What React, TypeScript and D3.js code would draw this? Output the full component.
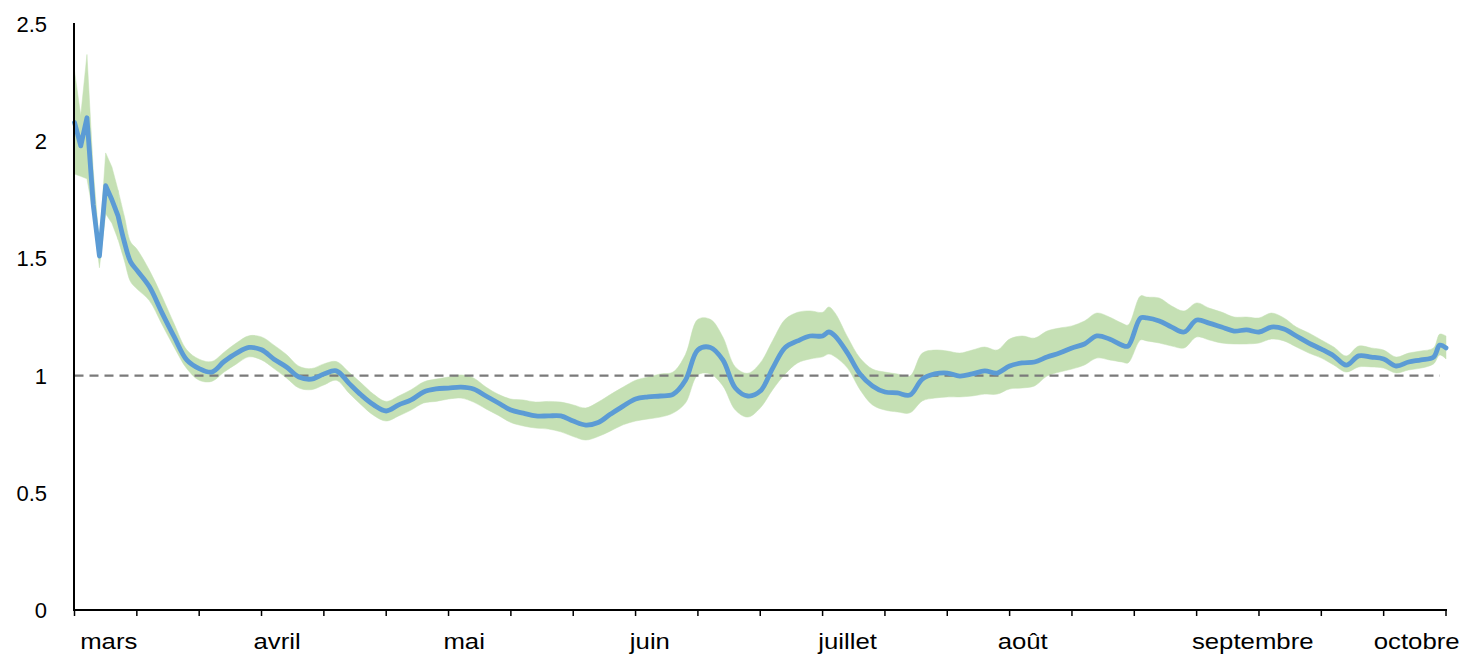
import React from "react";
import * as d3 from "d3";

// ---- data ----
const days = [
  0, 1, 2, 3, 4, 5, 6, 7, 8, 9, 10, 12, 14, 16, 18, 20, 22, 24, 26, 28, 30, 32, 34, 36, 38, 40,
  42, 44, 46, 48, 50, 52, 54, 56, 58, 60, 62, 64, 66, 68, 70, 72, 74, 76, 78, 80, 82, 84, 86, 88,
  90, 92, 94, 96, 98, 100, 102, 104, 106, 108, 110, 112, 114, 116, 118, 120, 121, 122, 124, 126,
  128, 130, 132, 134, 136, 138, 140, 142, 144, 146, 148, 150, 152, 154, 156, 158, 160, 162, 164,
  166, 168, 169, 171, 172, 174, 176, 178, 180, 182, 184, 186, 188, 190, 192, 194, 196, 198, 200,
  202, 204, 206, 208, 210, 212, 214, 216, 218, 219, 220,
];

const rEff = [
  2.08, 1.98, 2.1, 1.73, 1.51, 1.81, 1.75, 1.68, 1.57, 1.485, 1.45, 1.38, 1.27, 1.165, 1.067, 1.03,
  1.015, 1.06, 1.096, 1.12, 1.11, 1.07, 1.037, 0.994, 0.985, 1.007, 1.02, 0.968, 0.917, 0.875,
  0.849, 0.875, 0.896, 0.93, 0.943, 0.947, 0.951, 0.943, 0.913, 0.883, 0.853, 0.84, 0.828, 0.828,
  0.828, 0.806, 0.789, 0.8, 0.836, 0.87, 0.9, 0.909, 0.913, 0.92, 0.98, 1.11, 1.12, 1.067, 0.947,
  0.913, 0.934, 1.032, 1.12, 1.148, 1.169, 1.169, 1.186, 1.169, 1.096, 1.007, 0.956, 0.93, 0.926,
  0.917, 0.985, 1.007, 1.011, 0.998, 1.007, 1.02, 1.011, 1.041, 1.054, 1.058, 1.079, 1.096, 1.118,
  1.135, 1.169, 1.156, 1.13, 1.126, 1.246, 1.246, 1.233, 1.207, 1.186, 1.237, 1.224, 1.207, 1.19,
  1.195, 1.186, 1.207, 1.199, 1.169, 1.139, 1.113, 1.084, 1.045, 1.084, 1.079, 1.071, 1.041, 1.058,
  1.067, 1.079, 1.13, 1.118,
];

const ciHigh = [
  2.3, 2.11, 2.37, 1.88, 1.56, 1.95, 1.89, 1.79, 1.68, 1.57, 1.54, 1.45, 1.34, 1.22, 1.11, 1.07,
  1.06, 1.1, 1.14, 1.17, 1.165, 1.13, 1.09, 1.04, 1.03, 1.05, 1.06, 1.015, 0.968, 0.92, 0.89,
  0.913, 0.94, 0.973, 0.985, 0.994, 1.003, 0.99, 0.951, 0.92, 0.9, 0.896, 0.887, 0.89, 0.887,
  0.875, 0.862, 0.887, 0.92, 0.951, 0.98, 0.994, 1.007, 1.015, 1.09, 1.24, 1.24, 1.165, 1.037,
  1.01, 1.054, 1.15, 1.24, 1.27, 1.276, 1.27, 1.293, 1.267, 1.165, 1.075, 1.028, 1.015, 1.007,
  0.998, 1.096, 1.109, 1.105, 1.096, 1.109, 1.122, 1.109, 1.156, 1.169, 1.16, 1.19, 1.203, 1.212,
  1.233, 1.267, 1.25, 1.224, 1.216, 1.34, 1.335, 1.331, 1.297, 1.276, 1.31, 1.288, 1.271, 1.25,
  1.25, 1.246, 1.267, 1.246, 1.207, 1.182, 1.152, 1.122, 1.084, 1.126, 1.118, 1.109, 1.079, 1.096,
  1.105, 1.118, 1.177, 1.169,
];

const ciLow = [
  1.86, 1.85, 1.84, 1.69, 1.46, 1.69, 1.65, 1.58, 1.49, 1.4, 1.37, 1.32, 1.22, 1.12, 1.03, 0.98,
  0.975, 1.015, 1.05, 1.08, 1.067, 1.03, 0.99, 0.947, 0.94, 0.96, 0.98, 0.926, 0.875, 0.83, 0.806,
  0.828, 0.853, 0.883, 0.89, 0.9, 0.904, 0.887, 0.858, 0.83, 0.8, 0.785, 0.776, 0.772, 0.76,
  0.74, 0.725, 0.74, 0.764, 0.79, 0.806, 0.815, 0.823, 0.84, 0.883, 1.003, 1.007, 0.956, 0.853,
  0.823, 0.862, 0.94, 1.007, 1.054, 1.071, 1.08, 1.092, 1.08, 1.032, 0.94, 0.875, 0.853, 0.845,
  0.841, 0.892, 0.904, 0.909, 0.909, 0.913, 0.921, 0.921, 0.943, 0.947, 0.956, 0.998, 1.015, 1.028,
  1.045, 1.075, 1.067, 1.058, 1.054, 1.152, 1.148, 1.139, 1.126, 1.118, 1.165, 1.152, 1.139, 1.135,
  1.135, 1.139, 1.156, 1.148, 1.122, 1.096, 1.075, 1.045, 1.015, 1.037, 1.037, 1.032, 1.011, 1.024,
  1.032, 1.05, 1.088, 1.071,
];

const yTicks = [0, 0.5, 1, 1.5, 2, 2.5];
const yTickLabels = ["0", "0.5", "1", "1.5", "2", "2.5"];
const xTickDays = d3.range(0, 221, 10);
const monthLabels = ["mars", "avril", "mai", "juin", "juillet", "août", "septembre", "octobre"];
const monthLabelDays = [5.5, 32.5, 62.5, 92.3, 124, 152.1, 189, 215.3];
const reference = 1;
const jaggedUntilIndex = 7; // first days are daily, spiky values

export default function App() {
  const W = 1467;
  const H = 654;
  const x = d3.scaleLinear().domain([0, 220]).range([74.5, 1446]);
  const y = d3.scaleLinear().domain([0, 2.5]).range([610, 24]);

  const rows = days.map((d, i) => ({ d, r: rEff[i], lo: ciLow[i], hi: ciHigh[i] }));
  const head = rows.slice(0, jaggedUntilIndex + 1);
  const tail = rows.slice(jaggedUntilIndex);

  type Row = (typeof rows)[number];
  const mkArea = (c: d3.CurveFactory) =>
    d3
      .area<Row>()
      .x((p) => x(p.d))
      .y0((p) => y(p.lo))
      .y1((p) => y(p.hi))
      .curve(c);
  const mkLine = (c: d3.CurveFactory) =>
    d3
      .line<Row>()
      .x((p) => x(p.d))
      .y((p) => y(p.r))
      .curve(c);

  const smooth = d3.curveCatmullRom.alpha(0.5);
  const bandPaths = [mkArea(d3.curveLinear)(head), mkArea(smooth)(tail)];
  const linePath = (mkLine(d3.curveLinear)(head) || "") + (mkLine(smooth)(tail) || "").replace(/^M/, "L");

  return (
    <svg
      width={W}
      height={H}
      style={{ position: "absolute", left: 0, top: 0, background: "#fff" }}
    >
      <rect x={0} y={0} width={W} height={H} fill="#fff" />
      {bandPaths.map((p, i) => (
        <path key={i} d={p || ""} fill="#C5E0B4" stroke="#C5E0B4" strokeWidth={0.5} />
      ))}
      <line
        x1={x(0)}
        x2={x(219)}
        y1={y(reference)}
        y2={y(reference)}
        stroke="#7a7a7a"
        strokeWidth={2.2}
        strokeDasharray="9 6"
      />
      <path
        d={linePath}
        fill="none"
        stroke="#5B9BD5"
        strokeWidth={4.8}
        strokeLinejoin="round"
        strokeLinecap="round"
      />
      {/* axes */}
      <line x1={74} x2={74} y1={23} y2={611} stroke="#000" strokeWidth={2} />
      <line x1={73} x2={1447} y1={610} y2={610} stroke="#000" strokeWidth={2} />
      {xTickDays.map((d) => (
        <line key={d} x1={x(d)} x2={x(d)} y1={610} y2={616} stroke="#000" strokeWidth={1.5} />
      ))}
      {yTicks.map((t, i) => (
        <text
          key={t}
          x={47}
          y={y(t)}
          dy="0.36em"
          textAnchor="end"
          fontFamily="'Liberation Sans', Arial, sans-serif"
          fontSize={22}
          fill="#000"
        >
          {yTickLabels[i]}
        </text>
      ))}
      {monthLabels.map((m, i) => (
        <text
          key={m}
          transform={`translate(${x(monthLabelDays[i])},649) scale(1.12,1)`}
          textAnchor="middle"
          fontFamily="'Liberation Sans', Arial, sans-serif"
          fontSize={23}
          fill="#000"
        >
          {m}
        </text>
      ))}
    </svg>
  );
}
